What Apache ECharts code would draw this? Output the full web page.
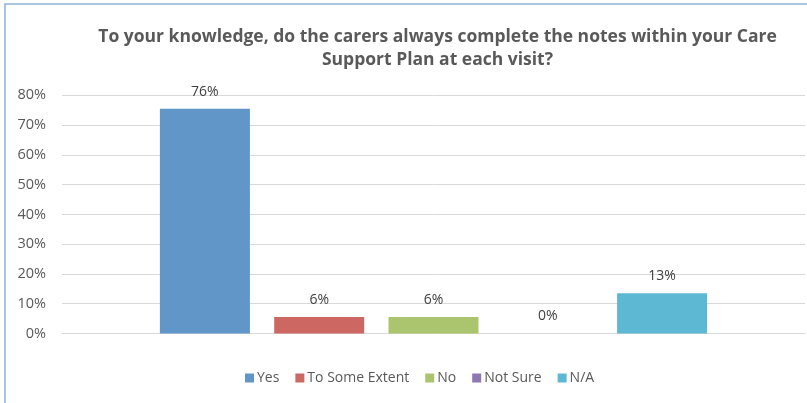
<!DOCTYPE html>
<html><head><meta charset="utf-8">
<script src="https://cdn.jsdelivr.net/npm/echarts@6/dist/echarts.min.js"></script>
<style>html,body{margin:0;padding:0;background:#fff}#c{width:807px;height:403px}</style>
</head><body><div id="c"></div>
<script>
const titleText = "To your knowledge, do the carers always complete the notes within your Care\nSupport Plan at each visit?";
const seriesNames = ["Yes", "To Some Extent", "No", "Not Sure", "N/A"];
const seriesValues = [75.5, 5.5, 5.5, 0, 13.5];
const valueLabels = ["76%", "6%", "6%", "0%", "13%"];
const colors = ["#6196C9", "#CD6761", "#ABC56E", "#8F78B1", "#5DB9D3"];
const yTicks = [0, 10, 20, 30, 40, 50, 60, 70, 80];

const font = "'Open Sans', sans-serif";
const chart = echarts.init(document.getElementById('c'), null, {renderer: 'canvas'});
chart.setOption({
  animation: false,
  color: colors,
  graphic: [{
    type: 'rect', shape: {x: 5, y: 4, width: 900, height: 500},
    style: {fill: 'none', stroke: '#8DB3DA', lineWidth: 1.5}, silent: true
  }],
  title: {
    text: titleText, left: 437.5, top: 25.5, textAlign: 'center', padding: 0,
    textStyle: {fontFamily: font, fontSize: 17.5, fontWeight: 'bold', color: '#595959', lineHeight: 23}
  },
  legend: {
    data: seriesNames, top: 366, left: 240, itemWidth: 9, itemHeight: 9, itemGap: 16,
    icon: 'rect',
    textStyle: {fontFamily: font, fontSize: 14, color: '#595959', padding: [0, 0, 0, -2]}
  },
  grid: {left: 62, right: 2, top: 95.3, bottom: 403 - 333.5},
  xAxis: {
    type: 'category', data: [''],
    axisLine: {show: true, lineStyle: {color: '#D9D9D9', width: 1}},
    axisTick: {show: false}, axisLabel: {show: false}
  },
  yAxis: {
    type: 'value', min: yTicks[0], max: yTicks[yTicks.length - 1], interval: 10,
    axisLine: {show: false}, axisTick: {show: false},
    splitLine: {lineStyle: {color: '#D9D9D9', width: 1}},
    axisLabel: {formatter: v => v + '%', fontFamily: font, fontSize: 14.5, color: '#595959', margin: 16}
  },
  series: seriesNames.map((n, i) => ({
    name: n, type: 'bar', data: [seriesValues[i]],
    barWidth: 90, barGap: '27%',
    label: {
      show: true, position: 'top', distance: 10,
      formatter: () => valueLabels[i],
      fontFamily: font, fontSize: 14, color: '#404040'
    }
  }))
});
</script></body></html>
